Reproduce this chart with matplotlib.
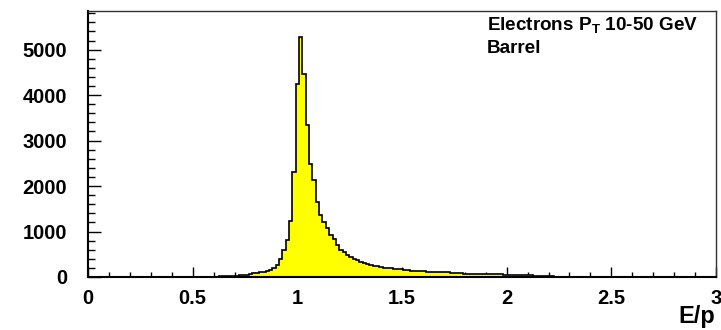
import numpy as np
import matplotlib
matplotlib.use("Agg")
import matplotlib.pyplot as plt
from matplotlib.ticker import MultipleLocator

plt.rcParams["font.family"] = ["Liberation Sans", "DejaVu Sans"]
plt.rcParams["font.weight"] = "bold"
plt.rcParams["mathtext.fontset"] = "custom"
plt.rcParams["mathtext.rm"] = "Liberation Sans:bold"
plt.rcParams["mathtext.bf"] = "Liberation Sans:bold"

# E/p histogram, bin width 0.016, first bin starts at 31 * 0.016
BIN_WIDTH = 0.016
FIRST_BIN = 31
counts = [
    2, 2, 3, 4, 5, 6, 8, 10, 12,
    15, 18, 20, 25, 30, 35,
    40, 50, 60,
    80, 88, 100, 115, 140, 160, 200,
    256, 403, 586, 806, 1230, 2300, 4250, 5275,
    4470, 3340, 2490, 2125, 1640, 1355, 1200, 1075, 920, 840, 700,
    600, 540, 490, 440, 405, 370, 340, 315, 290, 265,
    250, 235, 220, 208, 198, 190, 180, 172, 165,
    155, 150, 140, 135, 130, 128,
    125, 120, 118, 115, 112, 110, 108,
    100, 92, 85, 80, 78, 75, 74, 72, 70, 68,
    65, 62, 60, 58, 58, 56, 55, 52,
    48, 45, 42, 40, 38, 36, 35, 34, 32,
    28, 25, 22, 20,
    12, 8, 6, 5, 4, 3,
    2, 2, 1, 1, 1, 0, 1,
]
edges = (FIRST_BIN + np.arange(len(counts) + 1)) * BIN_WIDTH

x_ticks = [0, 0.5, 1, 1.5, 2, 2.5, 3]
x_tick_labels = ["0", "0.5", "1", "1.5", "2", "2.5", "3"]
y_ticks = [0, 1000, 2000, 3000, 4000, 5000]

W, H = 721, 330
fig = plt.figure(figsize=(W / 100, H / 100), dpi=100)
ax = fig.add_axes([88 / W, 53 / H, 628 / W, 266 / H])

ax.stairs(counts, edges, fill=True, color="#ffff00", zorder=2)
ax.stairs(counts, edges, color="black", linewidth=1.2, zorder=3)

ax.set_xlim(0, 3)
ax.set_ylim(0, 5850)

ax.set_xticks(x_ticks)
ax.set_xticklabels(x_tick_labels)
ax.set_yticks(y_ticks)
ax.xaxis.set_minor_locator(MultipleLocator(0.1))
ax.yaxis.set_minor_locator(MultipleLocator(200))

ax.tick_params(axis="both", which="both", direction="in", top=False, right=False,
               width=1.0, labelsize=14.5)
ax.tick_params(axis="x", which="major", length=7.5, pad=9)
ax.tick_params(axis="x", which="minor", length=3.6)
ax.tick_params(axis="y", which="major", length=9.4, pad=15)
ax.tick_params(axis="y", which="minor", length=4.7)

for side in ("left", "bottom"):
    ax.spines[side].set_linewidth(1.5)
for side in ("top", "right"):
    ax.spines[side].set_linewidth(1.0)
    ax.spines[side].set_color("#333333")

fig.text(487 / W, 1 - 31 / H, r"Electrons P$_{\mathbf{T}}$ 10-50 GeV",
         fontsize=13.6, fontweight="bold", ha="left", va="baseline")
fig.text(487 / W, 1 - 53 / H, "Barrel",
         fontsize=13.6, fontweight="bold", ha="left", va="baseline")
fig.text(715 / W, 1 - 323 / H, "E/p", fontsize=17, fontweight="bold",
         ha="right", va="baseline")

fig.savefig("out.png", dpi=100)
